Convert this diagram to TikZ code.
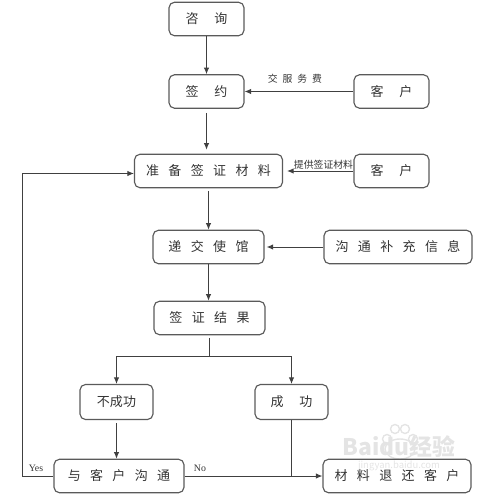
\documentclass[tikz,border=0pt]{standalone}
\usepackage{fontspec}
\setmainfont{Noto Sans CJK SC}
\newfontfamily\latinfont{Liberation Serif}
\usetikzlibrary{positioning, arrows.meta}

\newcommand{\gapa}{\hspace{.72em}}
\newcommand{\gapb}{\hspace{1.2em}}
\definecolor{boxline}{HTML}{5A5A5A}
\definecolor{mark}{HTML}{E4E4E4}

\tikzset{
    flowbox/.style={draw=boxline, line width=.65pt, rounded corners=.11cm, inner sep=0pt,
        minimum height=.67cm, text=black!80, font=\fontsize{7.4}{9}\selectfont},
    smallbox/.style={flowbox, minimum width=1.5cm},
    midbox/.style={flowbox, minimum width=2.22cm},
    widebox/.style={flowbox, minimum width=2.96cm},
    notelabel/.style={inner sep=0pt, text=black!80},
    toe/.style={draw=mark, line width=.8pt}
}

\begin{document}
\begin{tikzpicture}[on grid, >={Latex[length=.13cm, width=.11cm]}, line width=.55pt, color=black!75]

        \useasboundingbox (-4.13,.38) rectangle (5.59,-9.62);

        % watermark
        \draw[toe] (3.77,-8.2) circle (.09);
        \draw[toe] (3.97,-8.2) circle (.09);
        \draw[toe] (3.61,-8.4) circle (.09);
        \draw[toe] (4.13,-8.4) circle (.09);
        \draw[toe] (3.87,-8.6) ellipse (.3 and .2);
        \node[inner sep=0pt, font=\bfseries\fontsize{13}{15}\selectfont, text=mark] (baidu) at (3.85,-8.55) {Baidu经验};
        \node[inner sep=0pt, font=\fontsize{5.4}{6}\selectfont, text=mark] (site) at (3.85,-8.93) {jingyan.baidu.com};

        \node[smallbox] (zixun) {咨\gapb 询};
        \node[smallbox] (qianyue) [below=1.45 of zixun] {签\gapb 约};
        \node[smallbox] (kehua) [right=3.7 of qianyue] {客\gapb 户};
        \node[widebox] (zhunbei) [below right=1.59 and .04 of qianyue] {准\gapa 备\gapa 签\gapa 证\gapa 材\gapa 料};
        \node[smallbox] (kehub) [right=3.66 of zhunbei] {客\gapb 户};
        \node[midbox] (dijiao) [below=1.52 of zhunbei] {递\gapa 交\gapa 使\gapa 馆};
        \node[widebox] (buchong) [right=3.79 of dijiao] {沟\gapa 通\gapa 补\gapa 充\gapa 信\gapa 息};
        \node[midbox] (jieguo) [below right=1.42 and .02 of dijiao] {签\gapa 证\gapa 结\gapa 果};
        \node[smallbox, minimum width=1.46cm, minimum height=.7cm] (shibai) [below left=1.68 and 1.86 of jieguo] {不成功};
        \node[smallbox, minimum width=1.46cm, minimum height=.7cm] (chenggong) [right=3.5 of shibai] {成\gapb 功};
        \node[flowbox, minimum width=2.6cm] (yukehu) [below right=1.48 and .05 of shibai] {与\gapa 客\gapa 户\gapa 沟\gapa 通};
        \node[widebox] (tuihuan) [right=5.56 of yukehu] {材\gapa 料\gapa 退\gapa 还\gapa 客\gapa 户};

        \node[notelabel, font=\fontsize{5.6}{7}\selectfont] (jiaofei) [above left=.26 and 1.93 of kehua] {交\hspace{.5em}服\hspace{.5em}务\hspace{.5em}费};
        \node[notelabel, font=\fontsize{5.6}{7}\selectfont] (tigong) [above left=.12 and 1.36 of kehub] {提供签证材料};
        \node[notelabel, font=\latinfont\fontsize{5.6}{7}\selectfont] (yes) [above left=.16 and 1.66 of yukehu] {Yes};
        \node[notelabel, font=\latinfont\fontsize{5.6}{7}\selectfont] (no) [above right=.16 and 1.62 of yukehu] {No};

        \coordinate[below=.76 of jieguo] (fork);
        \coordinate[left=1.94 of yukehu] (back);
        \coordinate (join) at (chenggong.south |- yukehu);

        \path[->]
        (zixun) edge (qianyue)
        ([yshift=-.08cm]qianyue.south) edge ([yshift=.08cm]qianyue.south |- zhunbei.north)
        (kehua) edge (qianyue)
        (kehub) edge ([xshift=.08cm]zhunbei.east)
        ([yshift=-.05cm]zhunbei.south) edge (dijiao)
        (buchong) edge ([xshift=.04cm]dijiao.east)
        (dijiao.south) edge (dijiao.south |- jieguo.north)
        ([yshift=-.06cm]shibai.south) edge (shibai.south |- yukehu.north)
        (yukehu) edge (tuihuan);

        \draw ([yshift=-.05cm]jieguo.south) -- (fork);
        \draw[->] (fork) -| (shibai);
        \draw[->] (fork) -| (chenggong);
        \draw (chenggong) -- (join);
        \draw[->] (yukehu) -- (back) |- ([yshift=-.05cm]zhunbei.west);

    \end{tikzpicture}
\end{document}
